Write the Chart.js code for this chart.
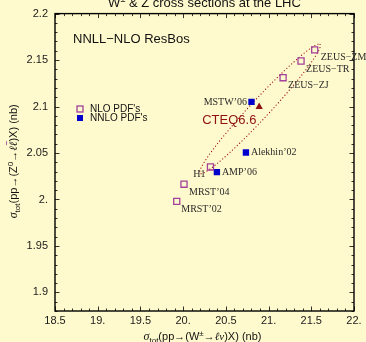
<!DOCTYPE html>
<html><head><meta charset="utf-8">
<script src="https://cdn.jsdelivr.net/npm/chart.js@4"></script>
<style>html,body{margin:0;padding:0;background:#FFFACD;}canvas{display:block;}</style>
</head><body>
<canvas id="c" width="366" height="342"></canvas>
<script>
// ---- data ----
const xTickValues = [18.5, 19, 19.5, 20, 20.5, 21, 21.5, 22];
const xTickLabels = ['18.5', '19.', '19.5', '20.', '20.5', '21.', '21.5', '22.'];
const yTickValues = [1.9, 1.95, 2.0, 2.05, 2.1, 2.15, 2.2];
const yTickLabels = ['1.9', '1.95', '2.', '2.05', '2.1', '2.15', '2.2'];

const nloNames = ['ZEUS\u2212ZM', 'ZEUS\u2212TR', 'ZEUS\u2212ZJ', 'H1', 'MRST\u201904', 'MRST\u201902'];
const nloW = [21.54, 21.38, 21.17, 20.32, 20.01, 19.925];
const nloZ = [2.161, 2.149, 2.131, 2.035, 2.0164, 1.998];

const nnloNames = ['MSTW\u201906', 'Alekhin\u201902', 'AMP\u201906'];
const nnloW = [20.80, 20.735, 20.395];
const nnloZ = [2.105, 2.0505, 2.0295];

const cteqNames = ['CTEQ6.6'];
const cteqW = [20.89];
const cteqZ = [2.0997];

const ellipseCenter = [20.90, 2.0975];
const ellipseMajor = [0.702, 0.0694];
const ellipseMinor = [0.0817, -0.00688];

const legendLabels = ["NLO PDF's", "NNLO PDF's"];

// ---- styles ----
const BG = 'rgb(255,250,205)';
const NLO_COLOR = '#A3409B';
const NNLO_COLOR = '#0000CC';
const CTEQ_COLOR = '#8E1212';
const SANS = "'Liberation Sans', Arial, sans-serif";
const SERIF = "'Liberation Serif', 'Times New Roman', serif";
const labelPlacement = {
  'ZEUS\u2212ZM': {dx: 6, dy: 8, align: 'left'},
  'ZEUS\u2212TR': {dx: 5, dy: 8, align: 'left'},
  'ZEUS\u2212ZJ': {dx: 5, dy: 7.5, align: 'left'},
  'H1': {dx: -5, dy: 7.5, align: 'right'},
  'MRST\u201904': {dx: 5, dy: 8, align: 'left'},
  'MRST\u201902': {dx: 4.5, dy: 8, align: 'left'},
  'MSTW\u201906': {dx: -4.5, dy: 0, align: 'right'},
  'Alekhin\u201902': {dx: 5, dy: 0, align: 'left'},
  'AMP\u201906': {dx: 5, dy: 0, align: 'left'}
};

const toPts = (xs, ys) => xs.map((v, i) => ({x: v, y: ys[i]}));

const bgPlugin = {
  id: 'bg',
  beforeDraw(chart) {
    const ctx = chart.ctx;
    ctx.save();
    ctx.fillStyle = BG;
    ctx.fillRect(0, 0, chart.width, chart.height);
    ctx.restore();
  }
};

const ellipsePlugin = {
  id: 'ellipse',
  beforeDatasetsDraw(chart) {
    const {ctx, scales: {x, y}} = chart;
    ctx.save();
    ctx.strokeStyle = '#A01818';
    ctx.lineWidth = 1.2;
    ctx.lineCap = 'round';
    ctx.setLineDash([0.1, 3.2]);
    ctx.beginPath();
    const N = 180;
    for (let k = 0; k <= N; k++) {
      const t = 2 * Math.PI * k / N;
      const dx = ellipseCenter[0] + ellipseMajor[0] * Math.cos(t) + ellipseMinor[0] * Math.sin(t);
      const dy = ellipseCenter[1] + ellipseMajor[1] * Math.cos(t) + ellipseMinor[1] * Math.sin(t);
      const px = x.getPixelForValue(dx), py = y.getPixelForValue(dy);
      if (k === 0) ctx.moveTo(px, py); else ctx.lineTo(px, py);
    }
    ctx.stroke();
    ctx.restore();
  }
};

function drawRuns(ctx, runs, cx, baseline) {
  let total = 0;
  runs.forEach(r => { ctx.font = r.f; r.w = ctx.measureText(r.t).width; total += r.w; });
  let xx = cx - total / 2;
  runs.forEach(r => {
    ctx.font = r.f;
    ctx.fillText(r.t, xx, baseline + (r.dy || 0));
    if (r.over) {
      ctx.save();
      ctx.lineWidth = 0.8;
      ctx.beginPath();
      ctx.moveTo(xx + 1, baseline - 10.5);
      ctx.lineTo(xx + r.w + 0.5, baseline - 10.5);
      ctx.stroke();
      ctx.restore();
    }
    xx += r.w;
  });
}

const overlayPlugin = {
  id: 'overlay',
  afterDatasetsDraw(chart) {
    const {ctx, chartArea: a, scales: {x, y}} = chart;
    ctx.save();
    // ticks
    ctx.strokeStyle = '#000';
    ctx.lineWidth = 0.8;
    const maj = 4.5, mnr = 2.5;
    ctx.beginPath();
    for (let i = 185; i <= 220; i++) {
      const v = i / 10;
      const px = Math.round(x.getPixelForValue(v)) + 0.5;
      const len = (i % 5 === 0) ? maj : mnr;
      ctx.moveTo(px, a.bottom); ctx.lineTo(px, a.bottom - len);
      ctx.moveTo(px, a.top); ctx.lineTo(px, a.top + len);
    }
    for (let i = 188; i <= 220; i++) {
      const v = i / 100;
      const py = Math.round(y.getPixelForValue(v)) + 0.5;
      const len = (i % 5 === 0) ? maj : mnr;
      ctx.moveTo(a.left, py); ctx.lineTo(a.left + len, py);
      ctx.moveTo(a.right, py); ctx.lineTo(a.right - len, py);
    }
    ctx.stroke();
    ctx.lineWidth = 1.4;
    ctx.strokeRect(a.left, a.top, a.right - a.left, a.bottom - a.top);

    // point labels
    ctx.fillStyle = '#2a2a2a';
    ctx.font = '10px ' + SERIF;
    ctx.textBaseline = 'middle';
    chart.data.datasets.forEach((ds, di) => {
      if (!ds.names || ds.isCteq) return;
      const meta = chart.getDatasetMeta(di);
      meta.data.forEach((el, i) => {
        const p = labelPlacement[ds.names[i]];
        if (!p) return;
        ctx.textAlign = p.align;
        ctx.fillText(ds.names[i], el.x + p.dx, el.y + p.dy);
      });
    });
    // CTEQ label
    const cm = chart.getDatasetMeta(2).data[0];
    ctx.fillStyle = CTEQ_COLOR;
    ctx.font = '13px ' + SANS;
    ctx.textAlign = 'left';
    ctx.fillText(cteqNames[0], cm.x - 57, cm.y + 13.5);

    // ResBos text
    ctx.fillStyle = '#111';
    ctx.font = '13px ' + SANS;
    ctx.fillText('NNLL\u2212NLO ResBos', 73, 39.5);

    // legend
    ctx.lineWidth = 1.3;
    ctx.strokeStyle = NLO_COLOR;
    ctx.strokeRect(77, 106, 6, 6);
    ctx.fillStyle = NNLO_COLOR;
    ctx.fillRect(77, 115, 6, 6);
    ctx.fillStyle = '#111';
    ctx.font = '10px ' + SANS;
    ctx.fillText(legendLabels[0], 90, 109.5);
    ctx.fillText(legendLabels[1], 90, 118.5);

    // title (cut at top)
    ctx.textAlign = 'left';
    ctx.textBaseline = 'alphabetic';
    ctx.fillStyle = '#111';
    drawRuns(ctx, [
      {t: 'W', f: '13px ' + SANS},
      {t: '\u00B1', f: '9px ' + SANS, dy: -5},
      {t: ' & Z cross sections at the LHC', f: '13px ' + SANS}
    ], (a.left + a.right) / 2, 6.5);

    // x title
    drawRuns(ctx, [
      {t: '\u03C3', f: 'italic 12px ' + SERIF},
      {t: 'tot', f: '8px ' + SANS, dy: 3},
      {t: '(pp\u2192(W', f: '11px ' + SANS},
      {t: '\u00B1', f: '8px ' + SANS, dy: -4},
      {t: '\u2192', f: '11px ' + SANS},
      {t: '\u2113', f: "italic 11px 'DejaVu Serif', serif"},
      {t: '\u03BD', f: 'italic 11px ' + SERIF},
      {t: ')X) (nb)', f: '11px ' + SANS}
    ], (a.left + a.right) / 2 - 2, 340);

    // y title
    ctx.save();
    ctx.translate(17, (a.top + a.bottom) / 2 - 1);
    ctx.rotate(-Math.PI / 2);
    drawRuns(ctx, [
      {t: '\u03C3', f: 'italic 12px ' + SERIF},
      {t: 'tot', f: '8px ' + SANS, dy: 3},
      {t: '(pp\u2192(Z', f: '11px ' + SANS},
      {t: '0', f: '8px ' + SANS, dy: -4},
      {t: '\u2192', f: '11px ' + SANS},
      {t: '\u2113', f: "italic 11px 'DejaVu Serif', serif"},
      {t: '\u2113', f: "italic 11px 'DejaVu Serif', serif", over: true},
      {t: ')X) (nb)', f: '11px ' + SANS}
    ], 0, 0);
    ctx.restore();

    ctx.restore();
  }
};

new Chart(document.getElementById('c'), {
  type: 'scatter',
  data: {
    datasets: [
      {
        label: legendLabels[0], names: nloNames, data: toPts(nloW, nloZ),
        pointStyle: 'rect', radius: 4.3, borderWidth: 1.3,
        borderColor: NLO_COLOR, backgroundColor: 'rgba(0,0,0,0)'
      },
      {
        label: legendLabels[1], names: nnloNames, data: toPts(nnloW, nnloZ),
        pointStyle: 'rect', radius: 4.5, borderWidth: 0,
        borderColor: NNLO_COLOR, backgroundColor: NNLO_COLOR
      },
      {
        label: cteqNames[0], names: cteqNames, isCteq: true, data: toPts(cteqW, cteqZ),
        pointStyle: 'triangle', radius: 4.2, borderWidth: 0,
        borderColor: CTEQ_COLOR, backgroundColor: CTEQ_COLOR
      }
    ]
  },
  options: {
    responsive: false,
    animation: false,
    devicePixelRatio: 1,
    layout: {padding: {top: 12, right: 12, left: 0, bottom: 0}},
    plugins: {legend: {display: false}, tooltip: {enabled: false}},
    scales: {
      x: {
        type: 'linear', min: 18.5, max: 22,
        grid: {display: false, drawTicks: false},
        border: {display: false},
        afterBuildTicks: s => { s.ticks = xTickValues.map(v => ({value: v})); },
        afterFit: s => { s.height = 31; },
        ticks: {
          autoSkip: false, maxRotation: 0, padding: 3, color: '#1a1a1a',
          font: {family: SANS, size: 11},
          callback: (v, i) => xTickLabels[i]
        }
      },
      y: {
        type: 'linear', min: 1.88, max: 2.2,
        grid: {display: false, drawTicks: false},
        border: {display: false},
        afterBuildTicks: s => { s.ticks = yTickValues.map(v => ({value: v})); },
        afterFit: s => { s.width = 55; },
        ticks: {
          autoSkip: false, padding: 7, color: '#1a1a1a',
          font: {family: SANS, size: 11},
          callback: (v, i) => yTickLabels[i]
        }
      }
    }
  },
  plugins: [bgPlugin, ellipsePlugin, overlayPlugin]
});
</script>
</body></html>
